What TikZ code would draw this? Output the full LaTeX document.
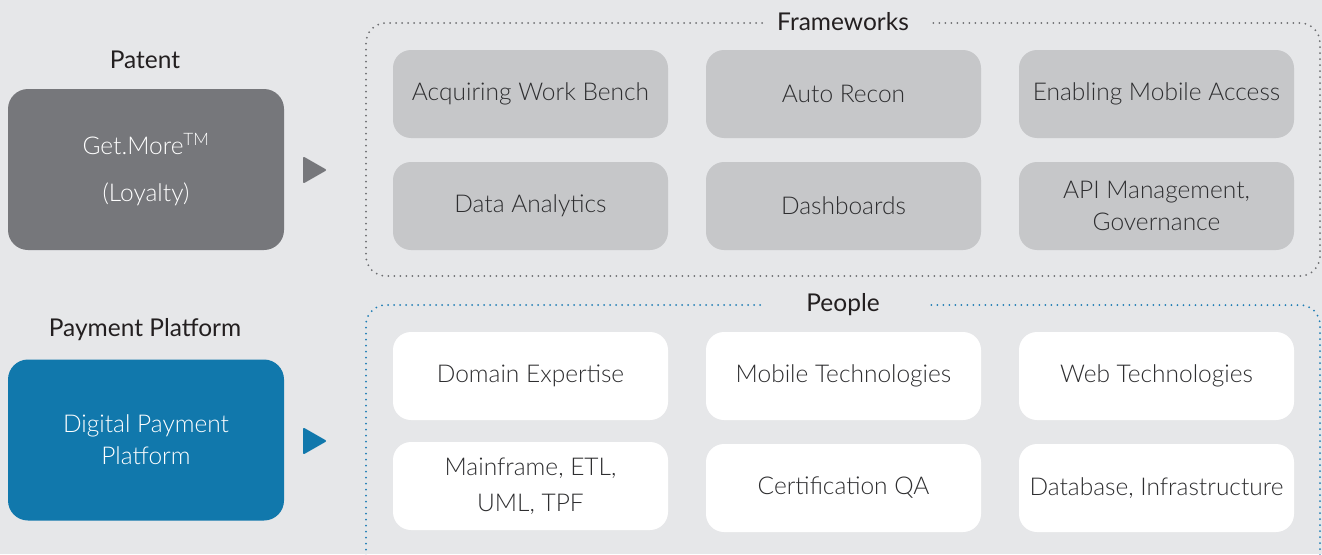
\documentclass[tikz,border=0pt]{standalone}
\usepackage{fontspec}
\setmainfont{Lato}[UprightFont=* Light, BoldFont=* Regular]
\begin{document}
\begin{tikzpicture}[x=1pt,y=-1pt,
  cell/.style={rounded corners=18pt, minimum width=275pt, minimum height=88pt, align=center, font=\fontsize{24.5}{32}\selectfont, text=txt, inner sep=0pt},
  fw/.style={cell, fill=fwgray},
  pp/.style={cell, fill=white},
  side/.style={rounded corners=20pt, minimum width=276pt, minimum height=161pt, align=center, text=white, font=\fontsize{24.5}{32}\selectfont, inner sep=0pt},
  head/.style={font=\bfseries\fontsize{24.5}{28}\selectfont, text=htxt},
  dots/.style={line width=2pt, line cap=round, dash pattern=on 0pt off 6pt, rounded corners=20pt},
  tri/.style={line join=round, line width=2pt}
]
\definecolor{bg}{HTML}{E6E7E9}
\definecolor{fwgray}{HTML}{C6C7C9}
\definecolor{darkbox}{HTML}{76777B}
\definecolor{bluebox}{HTML}{1178AC}
\definecolor{txt}{HTML}{2E2E30}
\definecolor{htxt}{HTML}{231F20}
\definecolor{dotgray}{HTML}{6D6E71}
\definecolor{dotblue}{HTML}{1F7DB5}
\fill[bg] (0,0) rectangle (1322,554);
\useasboundingbox (0,0) rectangle (1322,554);
\clip (0,0) rectangle (1322,554);

% left side
\node[head] (patent) at (145,60) {Patent};
\node[side, fill=darkbox, font=\fontsize{24.5}{47}\selectfont] (getmore) at (146,169.5) {Get.More\textsuperscript{TM}\\(Loyalty)};
\node[head] (payplat) at (145,330) {Payment Platform};
\node[side, fill=bluebox] (dpp) at (146,440) {Digital Payment\\Platform};

% triangles
\fill[darkbox, draw=darkbox, tri] (304,158) -- (325,170) -- (304,182) -- cycle;
\fill[bluebox, draw=bluebox, tri] (304,429) -- (325,441) -- (304,453) -- cycle;

% Frameworks frame
\node[head] (fwtitle) at (843,22) {Frameworks};
\coordinate (fwa) at (762,23);
\coordinate (fwb) at (928,23);
\draw[dots, dotgray] (fwa) -- (366,23) -- (366,276) -- (1320,276) -- (1320,23) -- (fwb);

% People frame
\node[head] (pptitle) at (843,305) {People};
\coordinate (ppa) at (760,305);
\coordinate (ppb) at (928,305);
\draw[dots, dotblue] (ppa) -- (366,305) -- (366,600) -- (1320,600) -- (1320,305) -- (ppb);

% Frameworks cells
\node[fw] (awb) at (530.5,94) {Acquiring Work Bench};
\node[fw] (ar) at (843.5,94) {Auto Recon};
\node[fw] (ema) at (1156.5,94) {Enabling Mobile Access};
\node[fw] (da) at (530.5,206) {Data Analytics};
\node[fw] (db) at (843.5,206) {Dashboards};
\node[fw] (api) at (1156.5,206) {API Management,\\Governance};

% People cells
\node[pp] (de) at (530.5,376) {Domain Expertise};
\node[pp] (mt) at (843.5,376) {Mobile Technologies};
\node[pp] (wt) at (1156.5,376) {Web Technologies};
\node[pp, font=\fontsize{24.5}{36}\selectfont] (mf) at (530.5,486) {Mainframe, ETL,\\UML, TPF};
\node[pp] (cq) at (843.5,488) {Certification QA};
\node[pp] (dbi) at (1156.5,488) {Database, Infrastructure};
\end{tikzpicture}
\end{document}
